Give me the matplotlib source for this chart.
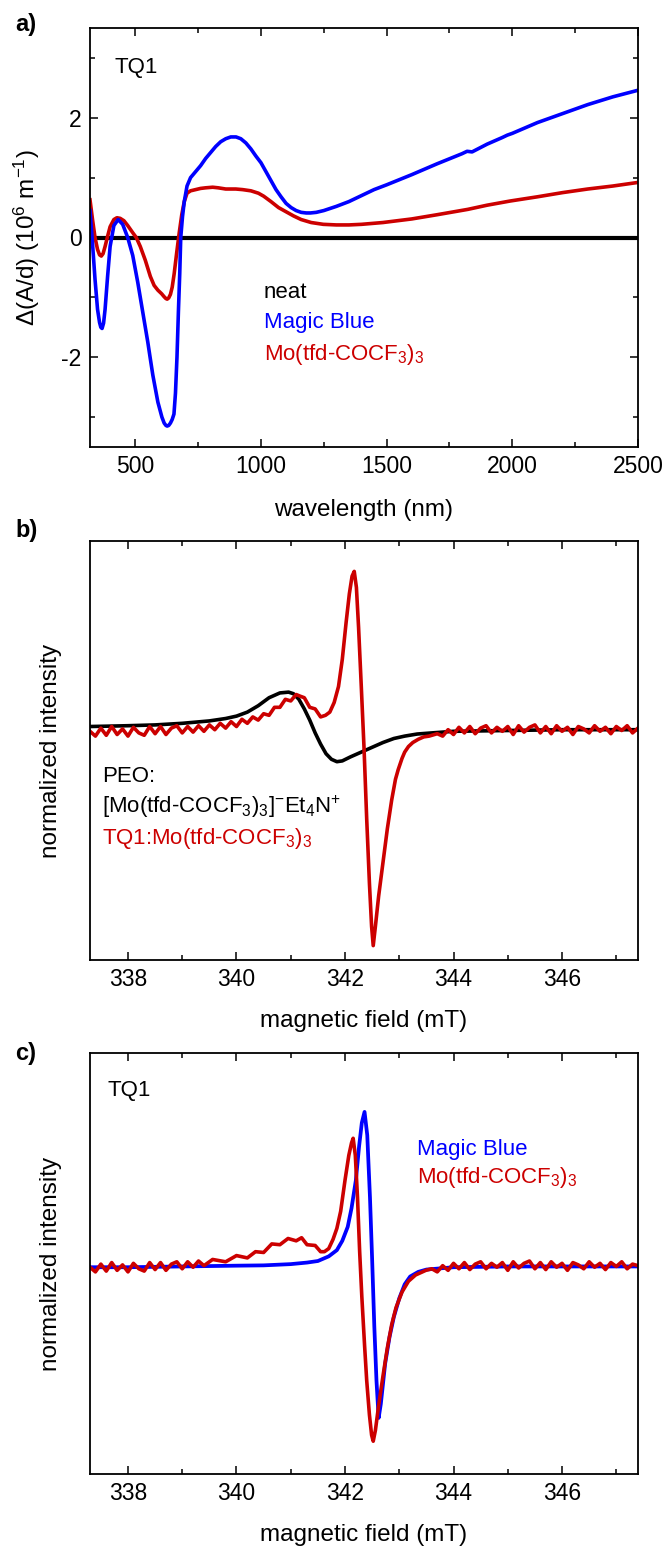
import matplotlib
matplotlib.use("Agg")
import matplotlib.pyplot as plt
from matplotlib.ticker import MultipleLocator, NullLocator

plt.rcParams['font.family'] = ['Liberation Sans', 'DejaVu Sans']
plt.rcParams['mathtext.fontset'] = 'custom'
plt.rcParams['mathtext.rm'] = 'Liberation Sans'
plt.rcParams['mathtext.it'] = 'Liberation Sans:italic'
plt.rcParams['mathtext.bf'] = 'Liberation Sans:bold'
plt.rcParams['mathtext.default'] = 'regular'

BLUE = '#0000FF'
RED = '#CC0000'

# ---------------- panel a: difference absorption ----------------
wl_blue = [320, 330, 340, 350, 358, 363, 368, 374, 380, 390, 400, 415, 432, 450, 470,
           490, 510, 530, 550, 559, 570, 590, 606, 615, 622, 627, 633, 640, 647, 654,
           660, 666, 672, 677, 681, 688, 695, 706, 720, 740, 760, 780, 800, 820, 840,
           860, 880, 901, 920, 940, 960, 980, 1000, 1020, 1040, 1060, 1080, 1100, 1120,
           1140, 1160, 1180, 1197, 1220, 1250, 1300, 1350, 1400, 1450, 1500, 1600, 1700,
           1800, 1820, 1840, 1900, 1960, 1980, 2000, 2100, 2200, 2300, 2400, 2500]
dA_blue = [0.45, -0.1, -0.7, -1.2, -1.42, -1.5, -1.52, -1.43, -1.2, -0.65, -0.15, 0.2,
           0.3, 0.22, 0.0, -0.3, -0.75, -1.25, -1.75, -2.0, -2.3, -2.75, -3.0, -3.1,
           -3.14, -3.15, -3.14, -3.1, -3.04, -2.95, -2.6, -2.0, -1.2, -0.6, 0.0, 0.35,
           0.6, 0.86, 1.0, 1.1, 1.2, 1.32, 1.42, 1.52, 1.6, 1.65, 1.68, 1.68, 1.65,
           1.58, 1.48, 1.36, 1.25, 1.1, 0.95, 0.8, 0.68, 0.57, 0.5, 0.45, 0.42, 0.41,
           0.41, 0.42, 0.45, 0.52, 0.6, 0.7, 0.8, 0.88, 1.05, 1.23, 1.40, 1.44, 1.43,
           1.56, 1.67, 1.71, 1.74, 1.92, 2.07, 2.22, 2.35, 2.46]

wl_red = [320, 330, 340, 350, 358, 365, 372, 380, 390, 400, 415, 427, 440, 455, 470, 490,
          504, 520, 540, 560, 575, 590, 605, 615, 622, 627, 633, 640, 647, 655, 665, 675,
          685, 695, 706, 720, 740, 760, 780, 808, 830, 860, 900, 927, 960, 990, 1011,
          1040, 1070, 1100, 1130, 1160, 1200, 1248, 1300, 1350, 1400, 1485, 1600, 1700,
          1823, 1900, 1992, 2100, 2200, 2300, 2400, 2500]
dA_red = [0.63, 0.3, 0.0, -0.2, -0.29, -0.31, -0.27, -0.15, 0.02, 0.18, 0.3, 0.33, 0.32,
          0.28, 0.2, 0.08, 0.0, -0.15, -0.38, -0.65, -0.8, -0.88, -0.94, -0.99, -1.02,
          -1.03, -1.01, -0.95, -0.83, -0.6, -0.25, 0.08, 0.38, 0.6, 0.74, 0.78, 0.8,
          0.82, 0.83, 0.84, 0.83, 0.81, 0.81, 0.8, 0.78, 0.74, 0.69, 0.6, 0.5, 0.43,
          0.36, 0.3, 0.25, 0.22, 0.21, 0.21, 0.22, 0.25, 0.31, 0.38, 0.47, 0.54, 0.61,
          0.68, 0.75, 0.81, 0.86, 0.92]

wl_neat = [320, 2500]
dA_neat = [0.0, 0.0]

# ---------------- panel b: EPR ----------------
B_peo = [337.3, 337.6, 338.0, 338.5, 339.0, 339.5, 339.8, 340.0, 340.2, 340.4, 340.6,
         340.8, 340.96, 341.05, 341.15, 341.25, 341.35, 341.45, 341.55, 341.65, 341.75,
         341.85, 341.95, 342.1, 342.3, 342.5, 342.7, 342.9, 343.1, 343.33, 343.6, 344.0,
         345.0, 346.0, 347.4]
I_peo = [0.03, 0.032, 0.035, 0.04, 0.05, 0.065, 0.08, 0.095, 0.12, 0.16, 0.21, 0.24,
         0.245, 0.235, 0.2, 0.14, 0.07, -0.01, -0.08, -0.14, -0.175, -0.19, -0.185, -0.16,
         -0.13, -0.1, -0.07, -0.045, -0.03, -0.017, -0.01, 0.0, 0.005, 0.01, 0.01]

# TQ1:Mo(tfd-COCF3)3 in panel b, read in three stretches
B_b_left = [337.3, 337.4, 337.5, 337.6, 337.7, 337.8, 337.9, 338.0, 338.1, 338.2, 338.3,
            338.4, 338.5, 338.6, 338.7, 338.8, 338.9, 339.0, 339.1, 339.2, 339.3, 339.4,
            339.5]
I_b_left = [0.0, -0.03, 0.02, -0.025, 0.03, -0.02, 0.015, -0.03, 0.025, -0.01, -0.025,
            0.03, -0.015, 0.03, -0.02, 0.02, 0.035, -0.01, 0.03, -0.005, 0.035, 0.0, 0.04]
B_b_mid = [339.6, 339.7, 339.8, 339.9, 340.0, 340.1, 340.2, 340.3, 340.4, 340.5, 340.6,
           340.7, 340.8, 340.9, 341.0, 341.1, 341.17, 341.25, 341.35, 341.45, 341.55,
           341.64, 341.72, 341.8, 341.88, 341.95, 342.02, 342.08, 342.13, 342.17, 342.21,
           342.25, 342.3, 342.35, 342.4, 342.45, 342.49, 342.52, 342.56, 342.62, 342.7,
           342.78, 342.86, 342.93, 342.98, 343.05, 343.1, 343.17, 343.25, 343.35, 343.45,
           343.55]
I_b_mid = [0.01, 0.05, 0.02, 0.06, 0.03, 0.075, 0.05, 0.09, 0.07, 0.11, 0.1, 0.15, 0.15,
           0.2, 0.19, 0.23, 0.22, 0.21, 0.15, 0.14, 0.09, 0.1, 0.12, 0.18, 0.28, 0.45,
           0.68, 0.86, 0.97, 1.0, 0.9, 0.65, 0.28, -0.1, -0.55, -0.95, -1.22, -1.34, -1.22,
           -1.03, -0.82, -0.61, -0.43, -0.3, -0.24, -0.17, -0.13, -0.095, -0.07, -0.05,
           -0.035, -0.03]
B_b_right = [343.7, 343.8, 343.9, 344.0, 344.1, 344.2, 344.3, 344.4, 344.5, 344.6, 344.7,
             344.8, 344.9, 345.0, 345.1, 345.2, 345.3, 345.4, 345.5, 345.6, 345.7, 345.8,
             345.9, 346.0, 346.1, 346.2, 346.3, 346.4, 346.5, 346.6, 346.7, 346.8, 346.9,
             347.0, 347.1, 347.2, 347.3, 347.4]
I_b_right = [-0.015, -0.03, 0.01, -0.02, 0.025, -0.01, 0.03, -0.015, 0.02, 0.035, -0.01,
             0.025, 0.0, 0.03, -0.02, 0.035, -0.005, 0.025, 0.04, -0.01, 0.03, -0.015,
             0.035, 0.0, 0.025, -0.02, 0.03, 0.015, -0.01, 0.035, 0.0, 0.025, -0.015, 0.03,
             0.005, 0.035, -0.01, 0.02]

# ---------------- panel c: EPR ----------------
B_mb = [337.3, 338.0, 339.0, 340.0, 340.5, 341.0, 341.3, 341.5, 341.7, 341.85, 341.95,
        342.05, 342.12, 342.2, 342.26, 342.31, 342.36, 342.41, 342.46, 342.5, 342.54,
        342.58, 342.62, 342.66, 342.74, 342.82, 342.9, 343.0, 343.1, 343.2, 343.35, 343.5,
        344.0, 345.0, 347.4]
I_mb = [0.0, 0.0, 0.005, 0.01, 0.012, 0.02, 0.03, 0.04, 0.07, 0.11, 0.17, 0.26, 0.38,
        0.56, 0.78, 0.93, 1.0, 0.85, 0.45, 0.05, -0.38, -0.73, -0.97, -0.88, -0.62, -0.45,
        -0.32, -0.2, -0.11, -0.06, -0.03, -0.015, 0.0, 0.005, 0.005]

B_c_left = [337.3, 337.4, 337.5, 337.6, 337.7, 337.8, 337.9, 338.0, 338.1, 338.2, 338.3,
            338.4, 338.5, 338.6, 338.7, 338.8, 338.9, 339.0, 339.1, 339.2, 339.3, 339.4]
I_c_left = [0.0, -0.03, 0.02, -0.025, 0.03, -0.02, 0.015, -0.03, 0.025, -0.01, -0.025,
            0.03, -0.015, 0.03, -0.02, 0.02, 0.035, -0.01, 0.035, 0.0, 0.04, 0.01]
B_c_mid = [339.56, 339.8, 340.0, 340.2, 340.35, 340.5, 340.65, 340.8, 340.95, 341.1,
           341.2, 341.3, 341.45, 341.55, 341.62, 341.7, 341.78, 341.85, 341.92, 342.0,
           342.07, 342.12, 342.15, 342.19, 342.23, 342.27, 342.31, 342.36, 342.4, 342.45,
           342.49, 342.52, 342.56, 342.62, 342.7, 342.78, 342.86, 342.94, 343.05, 343.17,
           343.3, 343.49]
I_c_mid = [0.05, 0.035, 0.075, 0.06, 0.1, 0.095, 0.15, 0.145, 0.185, 0.17, 0.19, 0.145,
           0.14, 0.1, 0.1, 0.12, 0.18, 0.25, 0.36, 0.56, 0.72, 0.8, 0.83, 0.72, 0.45, 0.1,
           -0.19, -0.5, -0.73, -0.95, -1.08, -1.12, -1.05, -0.89, -0.7, -0.52, -0.37,
           -0.26, -0.16, -0.09, -0.05, -0.02]
B_c_right = [343.6, 343.7, 343.8, 343.9, 344.0, 344.1, 344.2, 344.3, 344.4, 344.5, 344.6,
             344.7, 344.8, 344.9, 345.0, 345.1, 345.2, 345.3, 345.4, 345.5, 345.6, 345.7,
             345.8, 345.9, 346.0, 346.1, 346.2, 346.3, 346.4, 346.5, 346.6, 346.7, 346.8,
             346.9, 347.0, 347.1, 347.2, 347.3, 347.4]
I_c_right = [-0.01, -0.03, 0.01, -0.02, 0.025, -0.01, 0.03, -0.015, 0.02, 0.035, -0.01,
             0.025, 0.0, 0.03, -0.02, 0.035, -0.005, 0.025, 0.04, -0.01, 0.03, -0.015,
             0.035, 0.0, 0.025, -0.02, 0.03, 0.015, -0.01, 0.035, 0.0, 0.025, -0.015, 0.03,
             0.005, 0.035, -0.01, 0.02, 0.01]

# ---------------- figure ----------------
W, H = 667, 1547
fig = plt.figure(figsize=(W / 100, H / 100), dpi=100)


def axrect(left, top, right, bottom):
    return [left / W, 1 - bottom / H, (right - left) / W, (bottom - top) / H]


TICK_FS = 16.5
LAB_FS = 17.5
TXT_FS = 16

ax_a = fig.add_axes(axrect(90, 28, 638, 447))
ax_b = fig.add_axes(axrect(90, 541, 638, 960))
ax_c = fig.add_axes(axrect(90, 1053, 638, 1474))

for ax in (ax_a, ax_b, ax_c):
    for s in ax.spines.values():
        s.set_linewidth(1.3)
    ax.tick_params(which='both', direction='in', width=1.1, labelsize=TICK_FS,
                   top=True, right=True, pad=6.0)
    ax.tick_params(which='major', length=6)
    ax.tick_params(which='minor', length=3.8)

# panel a
ax_a.plot(wl_neat, dA_neat, color='black', lw=3.0)
ax_a.plot(wl_red, dA_red, color=RED, lw=2.6)
ax_a.plot(wl_blue, dA_blue, color=BLUE, lw=2.6)
ax_a.set_xlim(320, 2500)
ax_a.set_ylim(-3.5, 3.5)
ax_a.xaxis.set_major_locator(MultipleLocator(500))
ax_a.xaxis.set_minor_locator(MultipleLocator(250))
ax_a.yaxis.set_minor_locator(MultipleLocator(1))
ax_a.set_yticks([-2, 0, 2])
ax_a.set_yticklabels(['-2', '0', '2'])
ax_a.set_xlabel('wavelength (nm)', fontsize=LAB_FS)
ax_a.xaxis.set_label_coords(0.5, -0.124)
ax_a.set_ylabel('Δ(A/d) (10$^{6}$ m$^{-1}$)', fontsize=LAB_FS)
ax_a.yaxis.set_label_coords(-0.088, 0.5)
ax_a.text(0.0456, 0.8926, 'TQ1', transform=ax_a.transAxes, fontsize=TXT_FS,
          va='baseline', ha='left')
ax_a.text(0.3175, 0.3556, 'neat', transform=ax_a.transAxes, fontsize=TXT_FS,
          va='baseline', ha='left', color='black')
ax_a.text(0.3175, 0.284, 'Magic Blue', transform=ax_a.transAxes, fontsize=TXT_FS,
          va='baseline', ha='left', color=BLUE)
ax_a.text(0.3175, 0.2076, 'Mo(tfd-COCF$_3$)$_3$', transform=ax_a.transAxes,
          fontsize=TXT_FS, va='baseline', ha='left', color=RED)

# panel b
ax_b.plot(B_peo, I_peo, color='black', lw=2.6)
ax_b.plot(B_b_left + B_b_mid + B_b_right, I_b_left + I_b_mid + I_b_right,
          color=RED, lw=2.6)
ax_b.set_xlim(337.3, 347.4)
ax_b.set_ylim(-1.43, 1.19)
ax_b.xaxis.set_major_locator(MultipleLocator(2))
ax_b.xaxis.set_minor_locator(MultipleLocator(1))
ax_b.yaxis.set_major_locator(NullLocator())
ax_b.yaxis.set_minor_locator(NullLocator())
ax_b.set_xlabel('magnetic field (mT)', fontsize=LAB_FS)
ax_b.xaxis.set_label_coords(0.5, -0.119)
ax_b.set_ylabel('normalized intensity', fontsize=LAB_FS)
ax_b.yaxis.set_label_coords(-0.051, 0.5)
ax_b.text(0.0219, 0.4248, 'PEO:', transform=ax_b.transAxes, fontsize=TXT_FS,
          va='baseline', ha='left', color='black')
ax_b.text(0.0219, 0.3508, '[Mo(tfd-COCF$_3$)$_3$]$^{-}$Et$_4$N$^{+}$',
          transform=ax_b.transAxes, fontsize=TXT_FS, va='baseline', ha='left',
          color='black')
ax_b.text(0.0219, 0.2768, 'TQ1:Mo(tfd-COCF$_3$)$_3$', transform=ax_b.transAxes,
          fontsize=TXT_FS, va='baseline', ha='left', color=RED)

# panel c
ax_c.plot(B_mb, I_mb, color=BLUE, lw=2.7)
ax_c.plot(B_c_left + B_c_mid + B_c_right, I_c_left + I_c_mid + I_c_right,
          color=RED, lw=2.6)
ax_c.set_xlim(337.3, 347.4)
ax_c.set_ylim(-1.331, 1.379)
ax_c.xaxis.set_major_locator(MultipleLocator(2))
ax_c.xaxis.set_minor_locator(MultipleLocator(1))
ax_c.yaxis.set_major_locator(NullLocator())
ax_c.yaxis.set_minor_locator(NullLocator())
ax_c.set_xlabel('magnetic field (mT)', fontsize=LAB_FS)
ax_c.xaxis.set_label_coords(0.5, -0.119)
ax_c.set_ylabel('normalized intensity', fontsize=LAB_FS)
ax_c.yaxis.set_label_coords(-0.051, 0.5)
ax_c.text(0.0328, 0.8979, 'TQ1', transform=ax_c.transAxes, fontsize=TXT_FS,
          va='baseline', ha='left')
ax_c.text(0.5967, 0.7577, 'Magic Blue', transform=ax_c.transAxes, fontsize=TXT_FS,
          va='baseline', ha='left', color=BLUE)
ax_c.text(0.5967, 0.6912, 'Mo(tfd-COCF$_3$)$_3$', transform=ax_c.transAxes,
          fontsize=TXT_FS, va='baseline', ha='left', color=RED)

# panel letters
fig.text(15 / W, 1 - 31 / H, 'a)', fontsize=17, fontweight='bold', va='baseline')
fig.text(15 / W, 1 - 537 / H, 'b)', fontsize=17, fontweight='bold', va='baseline')
fig.text(15 / W, 1 - 1060 / H, 'c)', fontsize=17, fontweight='bold', va='baseline')

fig.savefig('out.png', dpi=100)
